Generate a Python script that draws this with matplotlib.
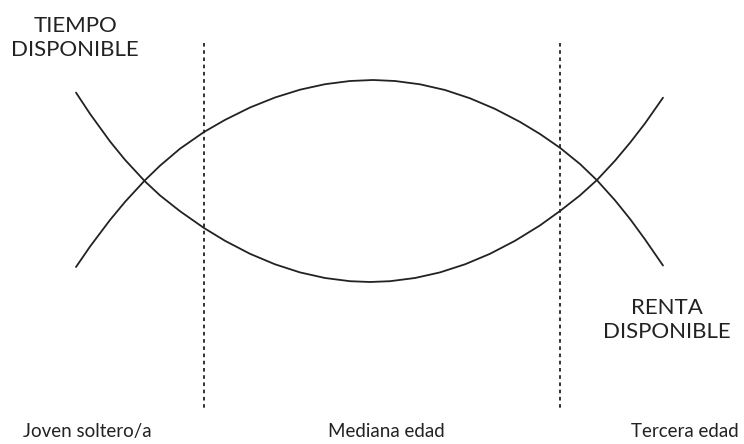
import matplotlib
matplotlib.use("Agg")
import matplotlib.pyplot as plt

# curves (x, y in picture units, y grows downwards)
x_tiempo = [76, 90, 110, 125, 145, 160, 180, 204, 225, 250, 275, 300, 325, 350, 370,
            390, 415, 440, 465, 490, 515, 540, 560, 580, 597, 615, 630, 645, 663]
y_tiempo = [92.6, 113.8, 141.4, 159.8, 181.4, 195.4, 211.2, 228, 240.8, 253.8, 264.3,
            272.4, 278, 281.2, 282, 281.2, 278, 272.4, 264.3, 253.8, 240.8, 225.4,
            211, 195.4, 180, 160.7, 142.8, 123.4, 97.7]

x_renta = [76, 90, 110, 125, 145, 160, 180, 204, 225, 250, 275, 300, 325, 350, 373,
           395, 420, 445, 470, 495, 520, 540, 560, 580, 597, 615, 630, 645, 663]
y_renta = [267, 246.6, 220, 201.9, 180.2, 165.7, 148.7, 132, 119.9, 107.5, 97.5, 89.7,
           84.2, 81, 80, 81, 84.3, 90, 98.3, 108.9, 121.9, 134, 147.8, 164, 180.3,
           200.3, 218.9, 239.4, 265.5]

# stage boundaries
etapas_x = [204, 560]
etapas = ["Joven soltero/a", "Mediana edad", "Tercera edad"]
etapas_pos = [87, 386, 685]

ink = "#222222"
plt.rcParams['font.family'] = ['Lato', 'DejaVu Sans']

fig = plt.figure(figsize=(7.44, 4.44), dpi=100)
ax = fig.add_axes([0, 0, 1, 1])
ax.set_xlim(0, 744)
ax.set_ylim(444, 0)
ax.axis("off")

ax.plot(x_tiempo, y_tiempo, color=ink, linewidth=1.3, solid_capstyle="round",
        solid_joinstyle="round")
ax.plot(x_renta, y_renta, color=ink, linewidth=1.3, solid_capstyle="round",
        solid_joinstyle="round")

for xv in etapas_x:
    ax.vlines(xv, 43, 408, color=ink, linewidth=1.3, linestyles=(0, (2, 2)))

# curve labels
ax.text(75, 38, "TIEMPO\nDISPONIBLE", ha="center", va="center", fontsize=16,
        color=ink, linespacing=1.25)
ax.text(667, 320, "RENTA\nDISPONIBLE", ha="center", va="center", fontsize=16,
        color=ink, linespacing=1.25)

# stage labels
for lab, xp in zip(etapas, etapas_pos):
    ax.text(xp, 431, lab, ha="center", va="center", fontsize=13.5, color=ink)

fig.savefig("out.png", dpi=100)
